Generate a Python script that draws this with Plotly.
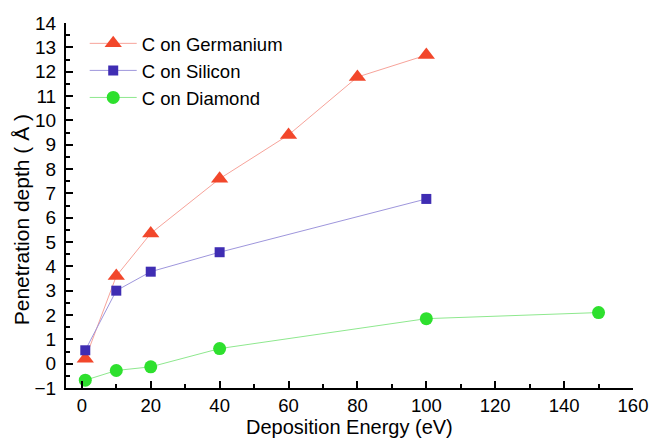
import plotly.graph_objects as go

energy_ge = [1, 10, 20, 40, 60, 80, 100]
depth_ge = [0.2, 3.6, 5.35, 7.6, 9.4, 11.78, 12.68]
energy_si = [1, 10, 20, 40, 100]
depth_si = [0.55, 3.0, 3.78, 4.58, 6.77]
energy_c = [1, 10, 20, 40, 100, 150]
depth_c = [-0.68, -0.28, -0.13, 0.62, 1.85, 2.1]

x_ticks = [0, 20, 40, 60, 80, 100, 120, 140, 160]
y_ticks = list(range(-1, 15))

FONT = "Liberation Sans, Arial, sans-serif"

fig = go.Figure()
fig.add_trace(go.Scatter(x=energy_ge, y=depth_ge, name="C on Germanium", mode="lines+markers",
                         line=dict(color="#F7A39A", width=1),
                         marker=dict(symbol="triangle-up", size=15, color="#F2472B")))
fig.add_trace(go.Scatter(x=energy_si, y=depth_si, name="C on Silicon", mode="lines+markers",
                         line=dict(color="#9E96DC", width=1),
                         marker=dict(symbol="square", size=10, color="#3F2DB3")))
fig.add_trace(go.Scatter(x=energy_c, y=depth_c, name="C on Diamond", mode="lines+markers",
                         line=dict(color="#8EE88E", width=1),
                         marker=dict(symbol="circle", size=13, color="#2EE02E")))

fig.update_layout(
    width=650, height=439,
    margin=dict(l=66, r=17, t=23, b=51, autoexpand=False),
    paper_bgcolor="white", plot_bgcolor="white",
    font=dict(family=FONT, size=19, color="black"),
    showlegend=True,
    legend=dict(x=0.033, y=0.995, xanchor="left", yanchor="top", bgcolor="rgba(0,0,0,0)",
                font=dict(size=18.5), tracegroupgap=0, itemwidth=47),
    xaxis=dict(range=[-4.6, 160], tickmode="array", tickvals=x_ticks, automargin=False,
               showgrid=False, zeroline=False, showline=True, linecolor="black", linewidth=2,
               ticks="inside", ticklen=7, tickwidth=2, tickcolor="black", ticklabelstandoff=0,
               tickfont=dict(size=18.5),
               minor=dict(tickvals=[10, 30, 50, 70, 90, 110, 130, 150], ticks="inside", ticklen=4,
                          tickwidth=2, tickcolor="black", showgrid=False)),
    yaxis=dict(range=[-1, 14], tickmode="array", tickvals=y_ticks, automargin=False,
               showgrid=False, zeroline=False, showline=True, linecolor="black", linewidth=2,
               ticks="inside", ticklen=7, tickwidth=2, tickcolor="black", ticklabelstandoff=4,
               minor=dict(tickvals=[v + 0.5 for v in range(-1, 14)], ticks="inside", ticklen=4,
                          tickwidth=2, tickcolor="black", showgrid=False)),
    annotations=[
        dict(text="Deposition Energy (eV)", xref="paper", yref="paper", x=0.5, y=-0.1395,
             xanchor="center", yanchor="bottom", showarrow=False, font=dict(size=20),
             borderpad=0),
        dict(text="Penetration depth ( Å )", xref="paper", yref="paper", x=-0.079, y=0.46,
             xanchor="center", yanchor="middle", textangle=-90, showarrow=False, font=dict(size=21)),
    ],
)

fig.write_html("out.html")
